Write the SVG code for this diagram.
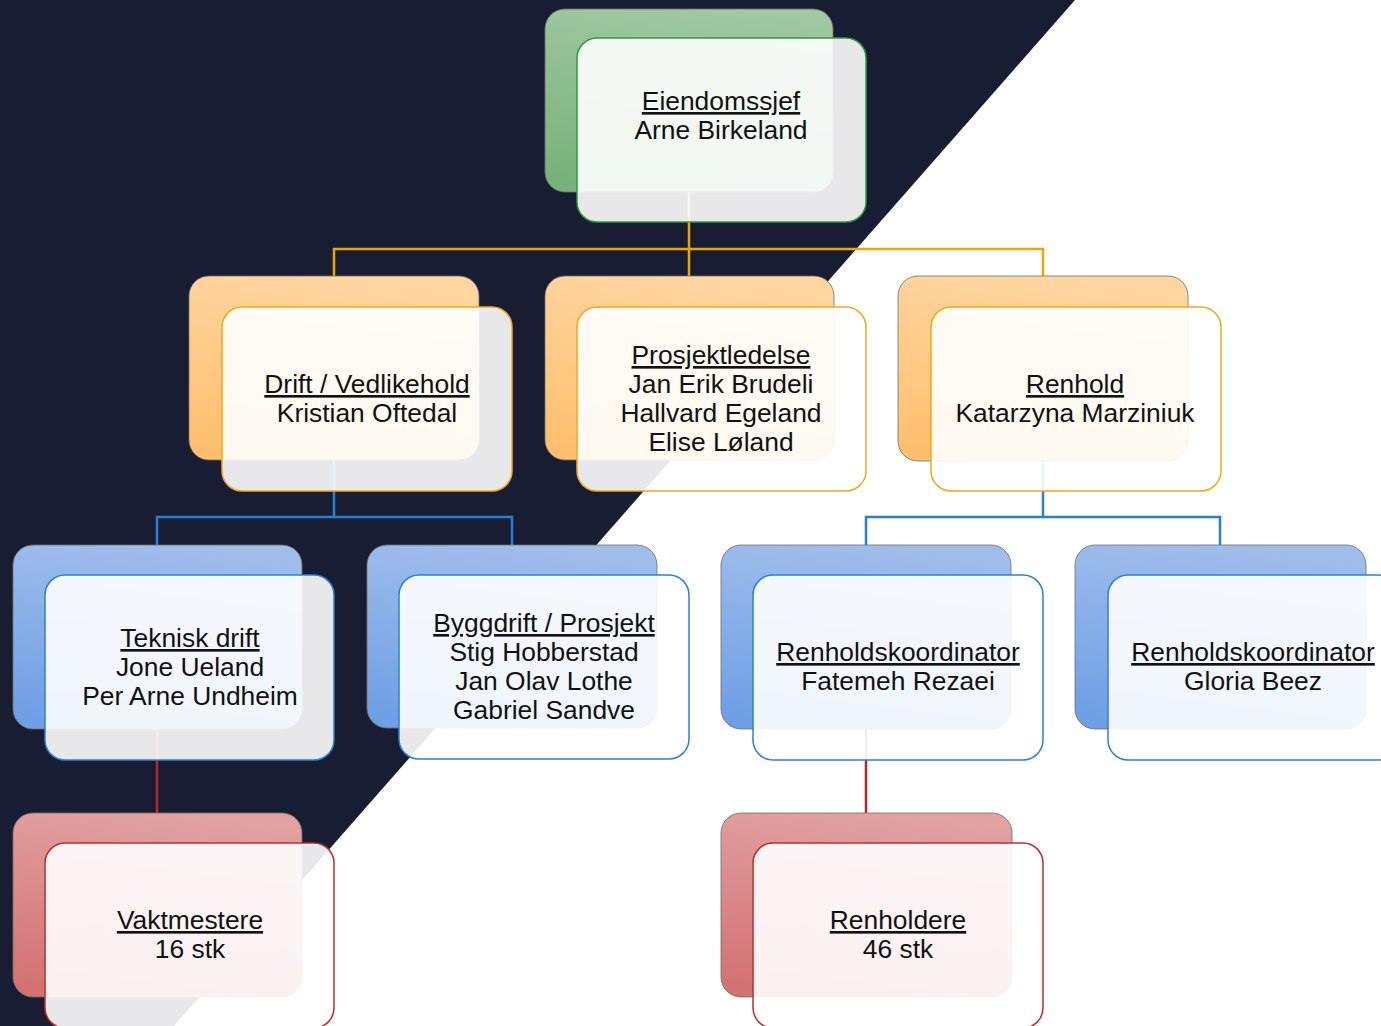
<svg xmlns="http://www.w3.org/2000/svg" width="1381" height="1026" viewBox="0 0 1381 1026">
<defs>
<linearGradient id="gG" x1="0.6" y1="0" x2="0.4" y2="1"><stop offset="0" stop-color="#a0c8a2"/><stop offset="1" stop-color="#78b27b"/></linearGradient>
<linearGradient id="gO" x1="0.6" y1="0" x2="0.4" y2="1"><stop offset="0" stop-color="#ffd6a2"/><stop offset="1" stop-color="#ffbf6e"/></linearGradient>
<linearGradient id="gB" x1="0.6" y1="0" x2="0.4" y2="1"><stop offset="0" stop-color="#a1beeb"/><stop offset="1" stop-color="#6f9fe5"/></linearGradient>
<linearGradient id="gR" x1="0.6" y1="0" x2="0.4" y2="1"><stop offset="0" stop-color="#e1a2a2"/><stop offset="1" stop-color="#d47273"/></linearGradient>
</defs>
<style>
.back{stroke:#6f6f6f;stroke-opacity:0.8;stroke-width:1}
.front{fill:#ffffff;fill-opacity:0.9;stroke-width:1.5}
.fg{stroke:#2f9a3f}.fo{stroke:#f2a81a}.fb{stroke:#2c80d4}.fr{stroke:#c22a2c}
text{font-family:"Liberation Sans",Arial,sans-serif;font-size:26.4px;fill:#111;text-anchor:middle}
.h{text-decoration:underline}
.c{fill:none;stroke-width:2.5}
.co{stroke:#f0a500}.cb{stroke:#2a7fd4}.cr{stroke:#b5252a}
</style>
<rect x="0" y="0" width="1381" height="1026" fill="#ffffff"/>
<polygon points="0,0 1075,0 174,1026 0,1026" fill="#191d33"/>
<g id="connectors">
<path class="c co" d="M689,192 V249 M334,276 V249 H1043 V276 M689,249 V276"/>
<path class="c cb" d="M334,460 V517 M157,545 V517 H512 V545"/>
<path class="c cb" d="M1043,461 V517 M866,545 V517 H1220 V545"/>
<path class="c cr" d="M157,729 V813"/>
<path class="c cr" d="M866,729 V813"/>
</g>
<g id="node-eiendomssjef">
<rect class="back" x="545" y="9" width="288" height="183" rx="20" fill="url(#gG)"/>
<rect class="front fg" x="577" y="38" width="289" height="184" rx="20"/>
<text x="721" y="110" class="h">Eiendomssjef</text>
<text x="721" y="139">Arne Birkeland</text>
</g>
<g id="node-drift">
<rect class="back" x="189" y="276" width="290" height="184" rx="20" fill="url(#gO)"/>
<rect class="front fo" x="222" y="307" width="290" height="184" rx="20"/>
<text x="367" y="393" class="h">Drift / Vedlikehold</text>
<text x="367" y="422">Kristian Oftedal</text>
</g>
<g id="node-prosjektledelse">
<rect class="back" x="545" y="276" width="289" height="184" rx="20" fill="url(#gO)"/>
<rect class="front fo" x="577" y="307" width="289" height="184" rx="20"/>
<text x="721" y="364" class="h">Prosjektledelse</text>
<text x="721" y="393">Jan Erik Brudeli</text>
<text x="721" y="422">Hallvard Egeland</text>
<text x="721" y="451">Elise Løland</text>
</g>
<g id="node-renhold">
<rect class="back" x="898" y="276" width="290" height="185" rx="20" fill="url(#gO)"/>
<rect class="front fo" x="931" y="307" width="290" height="184" rx="20"/>
<text x="1075" y="393" class="h">Renhold</text>
<text x="1075" y="422">Katarzyna Marziniuk</text>
</g>
<g id="node-teknisk">
<rect class="back" x="13" y="545" width="289" height="184" rx="20" fill="url(#gB)"/>
<rect class="front fb" x="45" y="575" width="289" height="185" rx="20"/>
<text x="190" y="647" class="h">Teknisk drift</text>
<text x="190" y="676">Jone Ueland</text>
<text x="190" y="705">Per Arne Undheim</text>
</g>
<g id="node-byggdrift">
<rect class="back" x="367" y="545" width="290" height="183" rx="20" fill="url(#gB)"/>
<rect class="front fb" x="399" y="575" width="290" height="184" rx="20"/>
<text x="544" y="632" class="h">Byggdrift / Prosjekt</text>
<text x="544" y="661">Stig Hobberstad</text>
<text x="544" y="690">Jan Olav Lothe</text>
<text x="544" y="719">Gabriel Sandve</text>
</g>
<g id="node-koordinator-fatemeh">
<rect class="back" x="721" y="545" width="290" height="184" rx="20" fill="url(#gB)"/>
<rect class="front fb" x="753" y="575" width="290" height="185" rx="20"/>
<text x="898" y="661" class="h">Renholdskoordinator</text>
<text x="898" y="690">Fatemeh Rezaei</text>
</g>
<g id="node-koordinator-gloria">
<rect class="back" x="1075" y="545" width="291" height="184" rx="20" fill="url(#gB)"/>
<rect class="front fb" x="1108" y="575" width="290" height="185" rx="20"/>
<text x="1253" y="661" class="h">Renholdskoordinator</text>
<text x="1253" y="690">Gloria Beez</text>
</g>
<g id="node-vaktmestere">
<rect class="back" x="13" y="813" width="289" height="184" rx="20" fill="url(#gR)"/>
<rect class="front fr" x="45" y="843" width="289" height="185" rx="20"/>
<text x="190" y="929" class="h">Vaktmestere</text>
<text x="190" y="958">16 stk</text>
</g>
<g id="node-renholdere">
<rect class="back" x="721" y="813" width="291" height="184" rx="20" fill="url(#gR)"/>
<rect class="front fr" x="753" y="843" width="290" height="185" rx="20"/>
<text x="898" y="929" class="h">Renholdere</text>
<text x="898" y="958">46 stk</text>
</g>
</svg>
